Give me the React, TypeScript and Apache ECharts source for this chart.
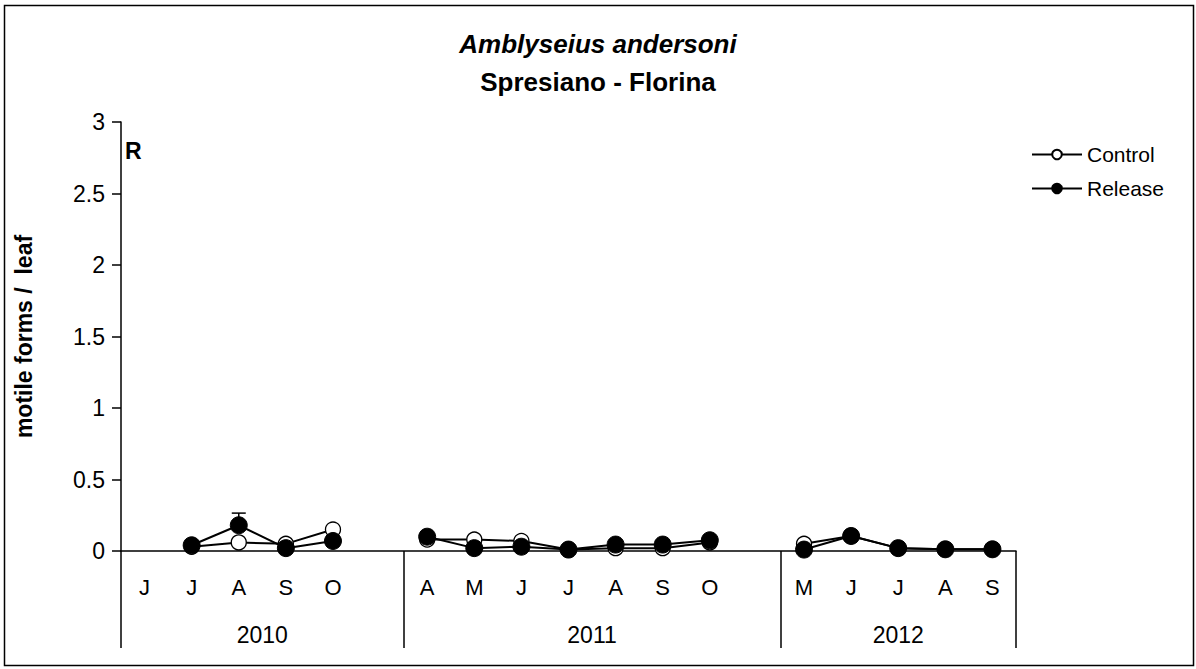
import React, { useEffect, useRef } from "react";
import * as echarts from "echarts";

// 19 slots along the x axis: 6 for 2010, 8 for 2011, 5 for 2012 (empty slots separate years)
const monthLabels = ["J", "J", "A", "S", "O", "", "A", "M", "J", "J", "A", "S", "O", "", "M", "J", "J", "A", "S"];
const years = ["2010", "2011", "2012"];
const yearCenters = [3, 10, 16.5];
const yearBoundaries = [0, 6, 14, 19];

const controlValues = [null, 0.03, 0.06, 0.05, 0.15, null, 0.08, 0.08, 0.07, 0.01, 0.02, 0.02, 0.06, null, 0.05, 0.105, 0.02, 0.012, 0.012];
const releaseValues = [null, 0.04, 0.18, 0.02, 0.07, null, 0.1, 0.02, 0.03, 0.01, 0.045, 0.045, 0.075, null, 0.01, 0.105, 0.02, 0.012, 0.012];
const releaseErrors = [null, null, 0.085, null, null, null, null, null, null, null, null, null, null, null, null, null, null, null, null];

const yTicks = [0, 0.5, 1, 1.5, 2, 2.5, 3];

const FONT = "Liberation Sans, Arial, sans-serif";

export default function App() {
  const ref = useRef<HTMLDivElement>(null);
  useEffect(() => {
    if (!ref.current) return;
    const chart = echarts.init(ref.current, undefined, { renderer: "svg" });
    const toPairs = (vals: (number | null)[]) =>
      vals.map((v, i) => [i + 0.5, v === null ? "-" : v]);
    const errData = releaseErrors
      .map((e, i) => (e === null || releaseValues[i] === null ? null : [i + 0.5, releaseValues[i], (releaseValues[i] as number) + e]))
      .filter((d) => d !== null);

    chart.setOption({
      animation: false,
      textStyle: { fontFamily: FONT, color: "#000" },
      title: [
        {
          text: "Amblyseius andersoni",
          left: "center",
          top: 26,
          textStyle: { fontStyle: "italic", fontWeight: "bold", fontSize: 26, color: "#000", fontFamily: FONT },
        },
        {
          text: "Spresiano - Florina",
          left: "center",
          top: 64,
          textStyle: { fontWeight: "bold", fontSize: 26, color: "#000", fontFamily: FONT },
        },
      ],
      legend: {
        orient: "vertical",
        left: 1026,
        top: 139,
        itemGap: 13,
        itemWidth: 50,
        itemHeight: 12,
        textStyle: { fontSize: 21, color: "#000", fontFamily: FONT },
        data: ["Control", "Release"],
      },
      grid: { left: 121, right: 180, top: 122, bottom: 118, containLabel: false },
      xAxis: [
        {
          type: "value",
          min: 0,
          max: 19,
          position: "bottom",
          axisLine: { show: true, lineStyle: { color: "#000", width: 1.5 } },
          splitLine: { show: false },
          axisTick: { show: true, customValues: yearBoundaries, length: 97, lineStyle: { color: "#000", width: 1.5 } },
          axisLabel: {
            customValues: monthLabels.map((_, i) => i + 0.5),
            formatter: (v: number) => monthLabels[Math.floor(v)] ?? "",
            fontSize: 22,
            color: "#000",
            margin: 25,
            fontFamily: FONT,
          },
        },
        {
          type: "value",
          min: 0,
          max: 19,
          position: "bottom",
          gridIndex: 0,
          axisLine: { show: false },
          splitLine: { show: false },
          axisTick: { show: false },
          axisLabel: {
            customValues: yearCenters,
            formatter: (v: number) => years[yearCenters.indexOf(v)] ?? "",
            fontSize: 23,
            color: "#000",
            margin: 72,
            fontFamily: FONT,
          },
        },
      ],
      yAxis: {
        type: "value",
        min: 0,
        max: 3,
        interval: 0.5,
        name: "motile forms /  leaf",
        nameLocation: "middle",
        nameGap: 86,
        nameTextStyle: { fontWeight: "bold", fontSize: 23, color: "#000", fontFamily: FONT },
        axisLine: { show: true, lineStyle: { color: "#000", width: 1.5 } },
        axisTick: { show: true, length: 9, lineStyle: { color: "#000", width: 1.5 } },
        splitLine: { show: false },
        axisLabel: {
          fontSize: 23,
          color: "#000",
          margin: 16,
          fontFamily: FONT,
          customValues: yTicks,
          formatter: (v: number) => String(v),
        },
      },
      graphic: [
        {
          type: "rect",
          shape: { x: 4.5, y: 5.5, width: 1189, height: 660 },
          style: { fill: "none", stroke: "#000", lineWidth: 1.5 },
          z: 0,
        },
        {
          type: "text",
          x: 125,
          y: 139,
          style: { text: "R", fontSize: 23, fontWeight: "bold", fill: "#000", fontFamily: FONT },
        },
      ],
      series: [
        {
          name: "Control",
          type: "line",
          data: toPairs(controlValues),
          connectNulls: false,
          symbol: "circle",
          symbolSize: 15,
          showAllSymbol: true,
          lineStyle: { color: "#000", width: 2 },
          itemStyle: { color: "#fff", borderColor: "#000", borderWidth: 1.3 },
          z: 2,
        },
        {
          name: "Release",
          type: "line",
          data: toPairs(releaseValues),
          connectNulls: false,
          symbol: "circle",
          symbolSize: 17,
          showAllSymbol: true,
          lineStyle: { color: "#000", width: 2 },
          itemStyle: { color: "#000", borderColor: "#000", borderWidth: 1 },
          z: 4,
        },
        {
          name: "ReleaseErr",
          type: "custom",
          z: 3,
          data: errData,
          renderItem: (params: any, api: any) => {
            const x = api.value(0);
            const lo = api.coord([x, api.value(1)]);
            const hi = api.coord([x, api.value(2)]);
            return {
              type: "group",
              children: [
                { type: "line", shape: { x1: lo[0], y1: lo[1], x2: hi[0], y2: hi[1] }, style: { stroke: "#000", lineWidth: 1.5 } },
                { type: "line", shape: { x1: hi[0] - 7, y1: hi[1], x2: hi[0] + 7, y2: hi[1] }, style: { stroke: "#000", lineWidth: 1.5 } },
              ],
            };
          },
        },
      ],
    });
    return () => chart.dispose();
  }, []);
  return <div ref={ref} style={{ width: 1196, height: 669, position: "absolute", left: 0, top: 0 }} />;
}
